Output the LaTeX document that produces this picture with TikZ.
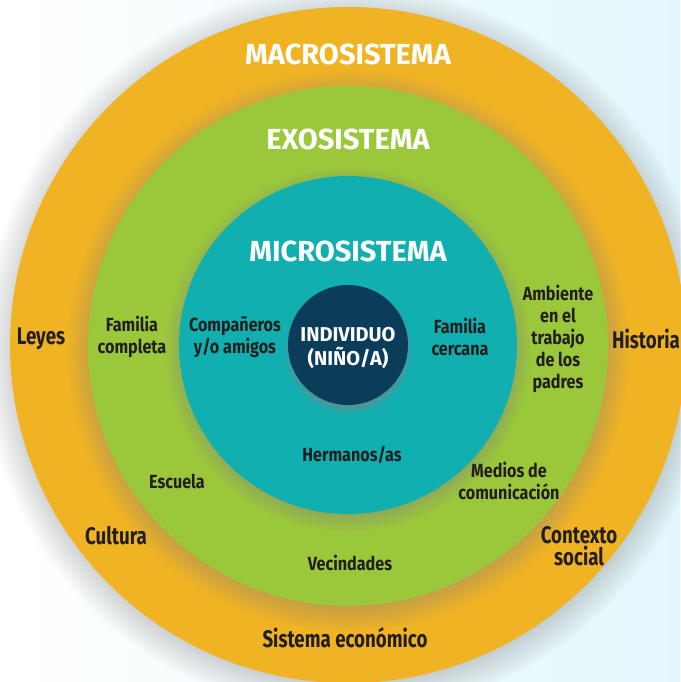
\documentclass[tikz,border=0pt]{standalone}
\usepackage{fontspec}
\setmainfont{Fira Sans}
\newfontfamily\condfont[FakeStretch=0.85]{Fira Sans}
\newfontfamily\narrowfont[FakeStretch=0.78]{Fira Sans}
\usetikzlibrary{shadows}
\definecolor{macro}{RGB}{240,179,35}
\definecolor{exo}{RGB}{155,199,59}
\definecolor{micro}{RGB}{18,175,176}
\definecolor{indiv}{RGB}{11,61,90}
\definecolor{ink}{RGB}{35,31,32}
\definecolor{sky}{RGB}{226,247,252}
\begin{document}
\begin{tikzpicture}
  [x=1pt,y=-1pt,every node/.style={align=center,text=ink},
   ring/.style={circle,inner sep=0pt,
     circular drop shadow={shadow xshift=0pt,shadow yshift=-4pt,shadow scale=1.08,opacity=.6}},
   title/.style={text=white,font=\bfseries\fontsize{29}{32}\selectfont},
   small/.style={font=\condfont\bfseries\fontsize{19}{22}\selectfont},
   big/.style={font=\narrowfont\bfseries\fontsize{24}{22}\selectfont}]
  \shade[left color=white,right color=sky] (0,0) rectangle (680,682);
  \useasboundingbox (0,0) rectangle (680,682);

  % the four systems
  \node[ring,fill=macro,minimum size=676pt] (macro) at (348,345) {};
  \node[ring,fill=exo,minimum size=520pt]   (exo)   at (348,346) {};
  \node[ring,fill=micro,minimum size=338pt] (micro) at (348,345) {};
  \node[ring,fill=indiv,minimum size=120pt] (indiv) at (348,345) {};

  \node[title] (tmacro) at (348,54)  {MACROSISTEMA};
  \node[title] (texo)   at (348,139) {EXOSISTEMA};
  \node[title] (tmicro) at (348,251) {MICROSISTEMA};
  \node[text=white,font=\bfseries\fontsize{20}{24}\selectfont] (tindiv) at (348,348)
    {INDIVIDUO\\(NIÑO/A)};

  % microsistema
  \node[small] (amigos)   at (235,337)   {Compañeros\\y/o amigos};
  \node[small] (cercana)  at (460,337)   {Familia\\cercana};
  \node[small] (hermanos) at (352,455)   {Hermanos/as};

  % exosistema
  \node[small] (completa) at (132,337)   {Familia\\completa};
  \node[small] (trabajo)  at (558,339)   {Ambiente\\en el\\trabajo\\de los\\padres};
  \node[small] (escuela)  at (177,481)   {Escuela};
  \node[small] (medios)   at (509,481)   {Medios de\\comunicación};
  \node[small] (vecinos)  at (350,563)   {Vecindades};

  % macrosistema
  \node[big] (leyes)    at (41,339)    {Leyes};
  \node[big] (historia) at (646,339)   {Historia};
  \node[big] (cultura)  at (116,536)   {Cultura};
  \node[big] (contexto) at (579,546)   {Contexto\\social};
  \node[big] (economia) at (345,638)   {Sistema económico};

\end{tikzpicture}
\end{document}
